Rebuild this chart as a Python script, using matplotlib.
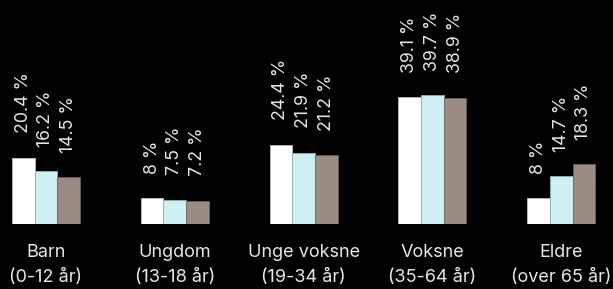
import numpy as np
import matplotlib
matplotlib.use("Agg")
import matplotlib.pyplot as plt

categories = ["Barn\n(0-12 år)", "Ungdom\n(13-18 år)", "Unge voksne\n(19-34 år)",
              "Voksne\n(35-64 år)", "Eldre\n(over 65 år)"]
series_a = [20.4, 8, 24.4, 39.1, 8]
series_b = [16.2, 7.5, 21.9, 39.7, 14.7]
series_c = [14.5, 7.2, 21.2, 38.9, 18.3]

colors = ["#ffffff", "#cdeef2", "#9b8c83"]
edges = ["#bbbbbb", "#8fb0b5", "#6f625b"]

plt.rcParams['font.family'] = ['Inter', 'DejaVu Sans']

fig = plt.figure(figsize=(6.13, 2.89), dpi=100, facecolor="black")
ax = fig.add_axes([0, 0.225, 1, 0.775])
ax.set_facecolor("black")

x = np.arange(len(categories))
width = 0.176
for i, (vals, c, ec) in enumerate(zip([series_a, series_b, series_c], colors, edges)):
    pos = x + (i - 1) * width
    ax.bar(pos, vals, width, color=c, edgecolor=ec, linewidth=0.6)
    for xp, v in zip(pos, vals):
        ax.annotate(f"{v:g} %", (xp, v), xytext=(0, 17.5), textcoords="offset points",
                    rotation=90, ha="center", va="bottom", color="#e6e6e6", fontsize=12.8)

ax.set_xlim(-0.357, 4.402)
ax.set_ylim(0, 68.9)
ax.set_xticks(x)
ax.set_xticklabels(categories, color="#e6e6e6", fontsize=13, linespacing=1.62)
ax.tick_params(axis="x", length=0, pad=14.5)
ax.set_yticks([])
for s in ax.spines.values():
    s.set_visible(False)

fig.savefig("out.png", dpi=100, facecolor="black")
